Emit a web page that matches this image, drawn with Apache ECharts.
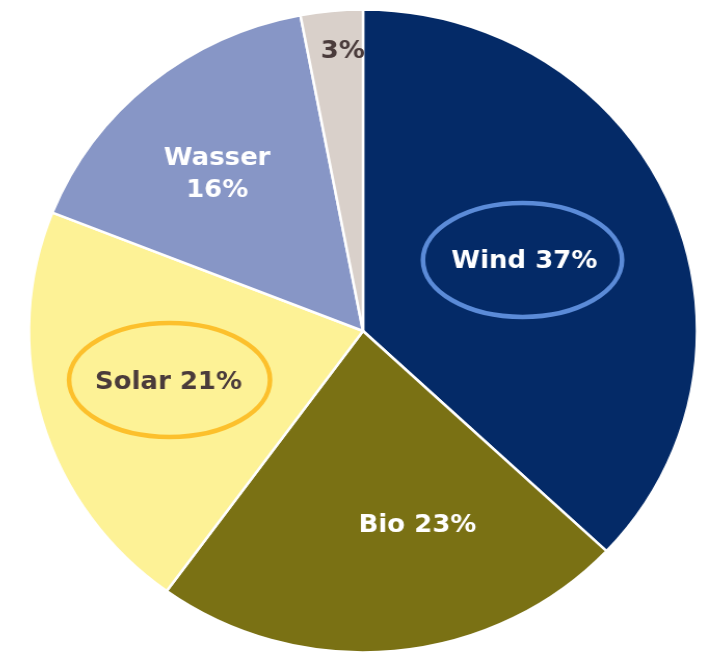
<!DOCTYPE html>
<html><head><meta charset="utf-8">
<script src="https://cdn.jsdelivr.net/npm/echarts@6/dist/echarts.min.js"></script>
<style>html,body{margin:0;padding:0;background:#fff;overflow:hidden}#c{width:702px;height:655px;transform:scaleX(1.039);transform-origin:363px 331px}</style>
</head><body><div id="c"></div>
<script>
const categories = ['Wind', 'Bio', 'Solar', 'Wasser', 'Sonstige'];
const values = [37, 23, 21, 16, 3];
const labelTexts = ['Wind 37%', 'Bio 23%', 'Solar 21%', 'Wasser\n16%', '3%'];
const colors = ['#042a67', '#7a7114', '#fdf296', '#8796c6', '#d9d0ca'];
const textColors = ['#ffffff', '#ffffff', '#4a3b3b', '#ffffff', '#4a3b3b'];
const labelShift = [[5, -4], [37, 31], [-30, 6], [-36, -30], [-4, -116]];

const chart = echarts.init(document.getElementById('c'));
chart.setOption({
  animation: false,
  series: [{
    type: 'pie',
    center: [363, 331],
    radius: 321.5,
    startAngle: 90,
    clockwise: true,
    itemStyle: { borderColor: '#ffffff', borderWidth: 2.5 },
    label: {
      position: 'inside',
      fontFamily: 'DejaVu Sans, sans-serif',
      fontWeight: 'bold',
      fontSize: 25,
      lineHeight: 32
    },
    labelLine: { show: false },
    labelLayout: function (p) {
      return { dx: labelShift[p.dataIndex][0], dy: labelShift[p.dataIndex][1] };
    },
    data: categories.map((c, i) => ({
      name: c,
      value: values[i],
      itemStyle: { color: colors[i] },
      label: { formatter: labelTexts[i], color: textColors[i] }
    }))
  }],
  graphic: [
    { type: 'ellipse', shape: { cx: 516.5, cy: 260, rx: 95.8, ry: 57 }, style: { fill: 'none', stroke: '#5b8bd8', lineWidth: 4.5 }, z: 100 },
    { type: 'ellipse', shape: { cx: 176.8, cy: 380, rx: 96.7, ry: 57 }, style: { fill: 'none', stroke: '#fcc02c', lineWidth: 4.5 }, z: 100 }
  ]
});
</script></body></html>
